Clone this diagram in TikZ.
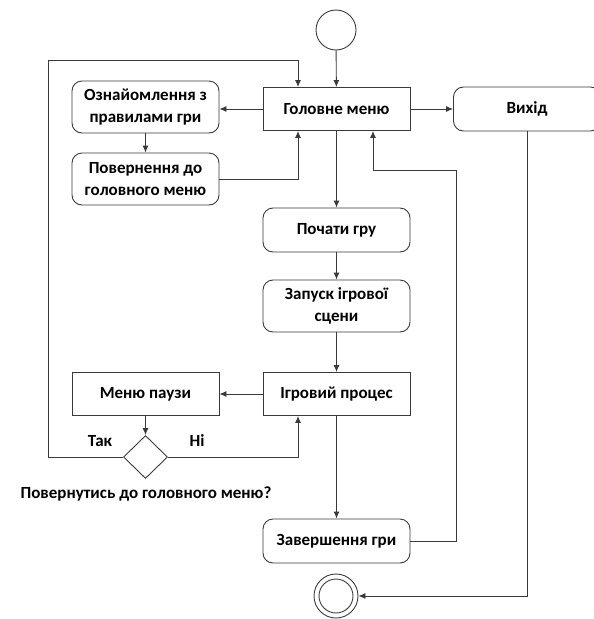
\documentclass[tikz,border=0pt]{standalone}
\usepackage{fontspec}
\setmainfont{Carlito}
\usetikzlibrary{arrows.meta,shapes.geometric}
\definecolor{edge}{HTML}{3A3A3A}
\tikzset{
  every node/.style={font=\bfseries\fontsize{17}{22.5}\selectfont, text=black},
  action/.style={draw=edge, line width=0.9pt, rounded corners=10pt, minimum width=147pt, minimum height=44pt, inner sep=0pt, align=center},
  tallaction/.style={action, minimum height=52pt},
  plainbox/.style={draw=edge, line width=0.9pt, minimum width=147pt, minimum height=43pt, inner sep=0pt, align=center},
  flow/.style={draw=edge, line width=0.9pt, -{Latex[length=7pt,width=6pt]}},
  decision/.style={draw=edge, line width=0.9pt, diamond, minimum width=44pt, minimum height=43pt, inner sep=0pt},
}
\begin{document}
\begin{tikzpicture}[x=1pt, y=-1pt]
\useasboundingbox (0,0) rectangle (594,619);

% start / end states
\node[draw=edge, line width=0.9pt, circle, minimum size=40pt, inner sep=0pt] (start) at (336,30) {};
\node[draw=edge, line width=0.9pt, circle, minimum size=44pt, inner sep=0pt] (stop) at (336,596) {};
\draw[edge, line width=0.9pt] (stop.center) circle (17pt);

% activities
\node[plainbox] (menu) at (336.5,109) {Головне меню};
\node[action] (exit) at (527,109) {Вихід};
\node[tallaction] (rules) at (145.5,107) {Ознайомлення з\\правилами гри};
\node[tallaction] (back) at (145.5,179) {Повернення до\\головного меню};
\node[action] (play) at (336.5,230) {Почати гру};
\node[tallaction] (scene) at (336.5,306) {Запуск ігрової\\сцени};
\node[plainbox] (game) at (336.5,394) {Ігровий процес};
\node[plainbox] (pause) at (145.5,394) {Меню паузи};
\node[action] (finish) at (336.5,541) {Завершення гри};

% decision
\node[decision] (ask) at (145.5,457) {};
\node (asklbl) at (146,494) {Повернутись до головного меню?};
\node (yes) at (100,441) {Так};
\node (no) at (197,441) {Ні};

% helper points
\coordinate (loopL) at (48,60);
\coordinate (loopR) at (298,60);
\coordinate (backUp) at (298,179);
\coordinate (noUp) at (298,457);
\coordinate (endR) at (456,541);
\coordinate (endUp) at (456,170);
\coordinate (endL) at (373,170);

% connectors
\draw[flow] (start) -- (menu);
\draw[flow] (menu) -- (rules.east |- menu);
\draw[flow] (rules) -- (back);
\draw[flow] (back.east) -- (backUp) -- (backUp |- menu.south);
\draw[flow] (menu) -- (exit.west |- menu);
\draw[flow] (menu) -- (play);
\draw[flow] (play) -- (scene);
\draw[flow] (scene) -- (game);
\draw[flow] (game) -- (pause);
\draw[flow] (pause) -- (ask);
\draw[flow] (ask.east) -- (noUp) -- (noUp |- game.south);
\draw[flow] (ask.west) -| (loopL) -- (loopR) -- (loopR |- menu.north);
\draw[flow] (game) -- (finish);
\draw[flow] (finish.east) -- (endR) -- (endUp) -- (endL) -- (endL |- menu.south);
\draw[flow] (exit.south) |- (stop.east);
\end{tikzpicture}
\end{document}
